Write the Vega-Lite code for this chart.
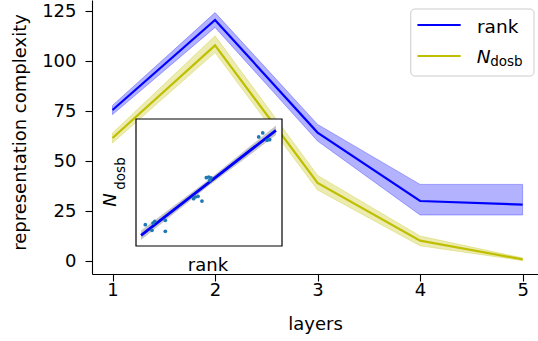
{
  "$schema": "https://vega.github.io/schema/vega-lite/v6.json",
  "width": 446,
  "height": 274,
  "autosize": {"type": "none"},
  "padding": {"left": 92, "top": 0, "right": 0, "bottom": 67},
  "config": {
    "font": "DejaVu Sans",
    "view": {"stroke": null},
    "axis": {
      "labelFontSize": 18, "titleFontSize": 18, "titleFontWeight": "normal",
      "labelColor": "#000000", "titleColor": "#000000", "domainColor": "#000000",
      "tickColor": "#000000", "domainWidth": 1.1, "tickWidth": 1.1, "tickSize": 7,
      "grid": false, "labelFont": "DejaVu Sans", "titleFont": "DejaVu Sans"
    }
  },
  "datasets": {
    "main": [
      {"layer": 1, "series": "rank", "mean": 75.5, "lo": 73.2, "hi": 77.8},
      {"layer": 2, "series": "rank", "mean": 120.5, "lo": 116.8, "hi": 124.2},
      {"layer": 3, "series": "rank", "mean": 64.2, "lo": 60.0, "hi": 68.3},
      {"layer": 4, "series": "rank", "mean": 30.0, "lo": 23.0, "hi": 38.3},
      {"layer": 5, "series": "rank", "mean": 28.2, "lo": 23.0, "hi": 38.3},
      {"layer": 1, "series": "N_dosb", "mean": 61.5, "lo": 59.0, "hi": 64.0},
      {"layer": 2, "series": "N_dosb", "mean": 107.8, "lo": 104.2, "hi": 112.6},
      {"layer": 3, "series": "N_dosb", "mean": 39.0, "lo": 35.5, "hi": 42.8},
      {"layer": 4, "series": "N_dosb", "mean": 10.2, "lo": 7.6, "hi": 12.5},
      {"layer": 5, "series": "N_dosb", "mean": 0.8, "lo": 0.2, "hi": 1.5}
    ],
    "points": [
      {"rank": 22.4, "ndosb": 15.1}, {"rank": 27.7, "ndosb": 9.8},
      {"rank": 28.5, "ndosb": 16.7}, {"rank": 29.9, "ndosb": 18.3},
      {"rank": 38.3, "ndosb": 19.3}, {"rank": 38.3, "ndosb": 8.9},
      {"rank": 60.8, "ndosb": 39.7}, {"rank": 62.1, "ndosb": 41.3},
      {"rank": 64.3, "ndosb": 42.0}, {"rank": 67.4, "ndosb": 37.5},
      {"rank": 70.9, "ndosb": 59.5}, {"rank": 72.8, "ndosb": 60.2},
      {"rank": 74.6, "ndosb": 59.3}, {"rank": 73.6, "ndosb": 57.1},
      {"rank": 112.5, "ndosb": 98.0}, {"rank": 115.7, "ndosb": 101.8},
      {"rank": 119.1, "ndosb": 94.9}, {"rank": 121.2, "ndosb": 95.4}
    ],
    "fit": [
      {"rank": 19.0, "fit": 5.1, "lo": 0.6, "hi": 9.6},
      {"rank": 72.6, "fit": 54.7, "lo": 51.7, "hi": 57.7},
      {"rank": 126.2, "fit": 104.3, "lo": 99.8, "hi": 108.8}
    ],
    "one": [{}]
  },
  "layer": [
    {
      "data": {"name": "main"},
      "encoding": {
        "x": {"field": "layer", "type": "quantitative",
              "scale": {"domain": [0.8, 5.15], "nice": false, "zero": false},
              "axis": {"values": [1, 2, 3, 4, 5], "title": "layers", "labelPadding": 0, "titlePadding": 16, "labelFlush": false}},
        "color": {"field": "series", "type": "nominal",
                  "scale": {"domain": ["rank", "N_dosb"], "range": ["#0000ff", "#bfbf00"]},
                  "legend": null}
      },
      "layer": [
        {
          "mark": {"type": "area", "opacity": 1, "fillOpacity": 0.3, "strokeOpacity": 0.3, "strokeWidth": 1},
          "encoding": {
            "y": {"field": "lo", "type": "quantitative",
                  "scale": {"domain": [-6.5, 130.5], "nice": false, "zero": false},
                  "axis": {"values": [0, 25, 50, 75, 100, 125], "title": "representation complexity", "labelPadding": 9, "titlePadding": 12, "titleY": 132}},
            "y2": {"field": "hi"},
            "stroke": {"field": "series", "type": "nominal",
                  "scale": {"domain": ["rank", "N_dosb"], "range": ["#0000ff", "#bfbf00"]}, "legend": null}
          }
        },
        {
          "mark": {"type": "line", "strokeWidth": 2.2},
          "encoding": {"y": {"field": "mean", "type": "quantitative"}}
        }
      ]
    },
    {
      "layer": [
        {
          "data": {"name": "one"},
          "mark": {"type": "rect", "fill": "#ffffff", "stroke": "#000000", "strokeWidth": 1.2},
          "encoding": {
            "x": {"datum": 15, "type": "quantitative",
                  "scale": {"domain": [15, 131], "range": [44, 190], "nice": false, "zero": false}, "axis": null},
            "x2": {"datum": 131},
            "y": {"datum": -5, "type": "quantitative",
                  "scale": {"domain": [-5, 115], "range": [246, 119], "nice": false, "zero": false}, "axis": null},
            "y2": {"datum": 115}
          }
        },
        {
          "data": {"name": "fit"},
          "mark": {"type": "area", "color": "#8c8c8c", "opacity": 0.5},
          "encoding": {
            "x": {"field": "rank", "type": "quantitative"},
            "y": {"field": "lo", "type": "quantitative"},
            "y2": {"field": "hi"}
          }
        },
        {
          "data": {"name": "fit"},
          "mark": {"type": "line", "color": "#0000ff", "strokeWidth": 2.8},
          "encoding": {
            "x": {"field": "rank", "type": "quantitative"},
            "y": {"field": "fit", "type": "quantitative"}
          }
        },
        {
          "data": {"name": "points"},
          "mark": {"type": "circle", "color": "#1f77b4", "opacity": 1, "size": 14},
          "encoding": {
            "x": {"field": "rank", "type": "quantitative"},
            "y": {"field": "ndosb", "type": "quantitative"}
          }
        },
        {
          "data": {"name": "one"},
          "mark": {"type": "text", "text": "rank", "fontSize": 18, "align": "center", "baseline": "alphabetic", "color": "#000000"},
          "encoding": {"x": {"datum": 72.2, "type": "quantitative"}, "y": {"datum": -28.6, "type": "quantitative"}}
        },
        {
          "data": {"name": "one"},
          "mark": {"type": "text", "text": "N", "fontSize": 18, "fontStyle": "italic", "angle": 270, "align": "center", "baseline": "alphabetic", "color": "#000000"},
          "encoding": {"x": {"datum": -0.9, "type": "quantitative"}, "y": {"datum": 38.5, "type": "quantitative"}}
        },
        {
          "data": {"name": "one"},
          "mark": {"type": "text", "text": "dosb", "fontSize": 13.5, "angle": 270, "align": "center", "baseline": "alphabetic", "color": "#000000"},
          "encoding": {"x": {"datum": 6.6, "type": "quantitative"}, "y": {"datum": 63.5, "type": "quantitative"}}
        }
      ]
    },
    {
      "data": {"name": "one"},
      "layer": [
        {
          "mark": {"type": "rect", "fill": "#ffffff", "fillOpacity": 0.8, "stroke": "#cccccc", "strokeWidth": 1, "cornerRadius": 4},
          "encoding": {
            "x": {"datum": 3.909, "type": "quantitative", "scale": {"domain": [0.8, 5.15], "nice": false, "zero": false}, "axis": null},
            "x2": {"datum": 5.111},
            "y": {"datum": 126, "type": "quantitative", "scale": {"domain": [-6.5, 130.5], "nice": false, "zero": false}, "axis": null},
            "y2": {"datum": 92.5}
          }
        },
        {
          "mark": {"type": "rule", "color": "#0000ff", "strokeWidth": 2.2},
          "encoding": {"x": {"datum": 3.974, "type": "quantitative"}, "x2": {"datum": 4.396}, "y": {"datum": 118, "type": "quantitative"}}
        },
        {
          "mark": {"type": "rule", "color": "#bfbf00", "strokeWidth": 2.2},
          "encoding": {"x": {"datum": 3.974, "type": "quantitative"}, "x2": {"datum": 4.396}, "y": {"datum": 102.5, "type": "quantitative"}}
        },
        {
          "mark": {"type": "text", "text": "rank", "fontSize": 18.5, "align": "left", "baseline": "alphabetic", "color": "#000000"},
          "encoding": {"x": {"datum": 4.555, "type": "quantitative"}, "y": {"datum": 113.85, "type": "quantitative"}}
        },
        {
          "mark": {"type": "text", "text": "N", "fontSize": 18.5, "fontStyle": "italic", "align": "left", "baseline": "alphabetic", "color": "#000000"},
          "encoding": {"x": {"datum": 4.552, "type": "quantitative"}, "y": {"datum": 98.85, "type": "quantitative"}}
        },
        {
          "mark": {"type": "text", "text": "dosb", "fontSize": 13.5, "align": "left", "baseline": "alphabetic", "color": "#000000"},
          "encoding": {"x": {"datum": 4.684, "type": "quantitative"}, "y": {"datum": 97.65, "type": "quantitative"}}
        }
      ]
    }
  ],
  "resolve": {"scale": {"x": "independent", "y": "independent"}}
}
